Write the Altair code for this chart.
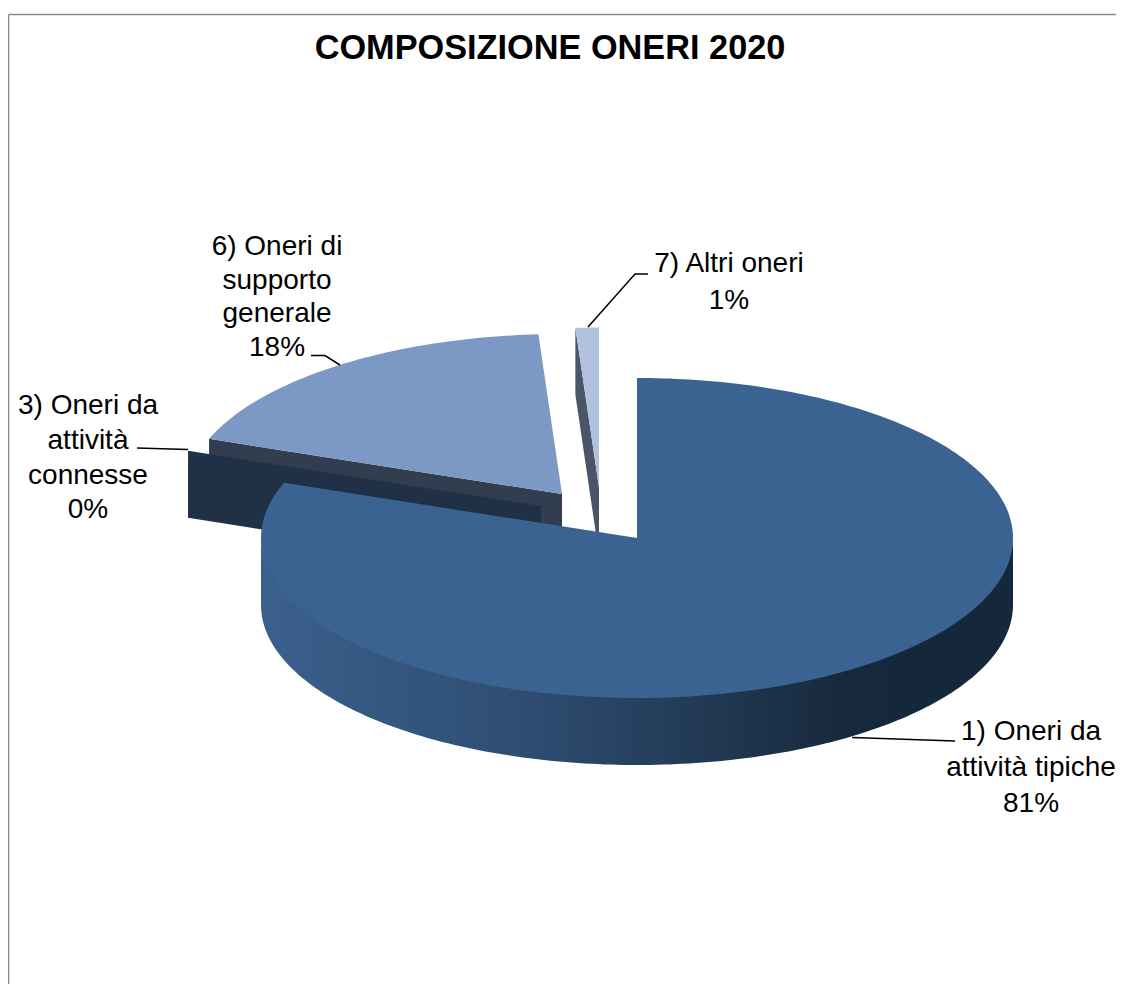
import math
import altair as alt
import pandas as pd

# ---- chart data
categories = ["1) Oneri da attività tipiche", "3) Oneri da attività connesse",
              "6) Oneri di supporto generale", "7) Altri oneri"]
shares = [80.6, 0.0, 18.4, 1.0]
title_text = "COMPOSIZIONE ONERI 2020"
label_lines = [["1) Oneri da", "attività tipiche"],
               ["3) Oneri da", "attività", "connesse"],
               ["6) Oneri di", "supporto", "generale"],
               ["7) Altri oneri"]]

# ---- layout and style (page pixels, the scales below map them 1:1)
M = 8
RIGHT, BOTTOM = 1116, 984
RX, RY, DEPTH = 376, 160, 67
apex = [(637, 538), (541, 506), (562, 494), (599, 487.5)]
top_col = ["#3B6391", "#1F3047", "#7C98C4", "#B2C1DD"]
side_col = ["#2A4767", "#1F3047", "#323D50", "#4A5567"]
label_x = [1031, 88, 277, 729]
label_y = [[732, 768, 804], [406, 441, 476, 510], [247, 281, 314, 348], [264, 301]]
leaders = [[(852, 737.5), (955, 741)],
           [(137, 448), (188, 449.5)],
           [(311, 355.5), (325, 355.5), (340, 365)],
           [(588, 327), (635, 274), (648, 274)]]
FONT = "Liberation Sans"

xs = alt.Scale(domain=[M, RIGHT], range=[0, RIGHT - M], nice=False, zero=False)
ys = alt.Scale(domain=[M, BOTTOM], range=[0, BOTTOM - M], nice=False, zero=False)
X = lambda f="x": alt.X(f"{f}:Q", scale=xs, axis=None)
Y = lambda f="y": alt.Y(f"{f}:Q", scale=ys, axis=None)


def rim(c, t):
    r = math.radians(t)
    return c[0] + RX * math.sin(r), c[1] - RY * math.cos(r)


def poly(points, fill):
    df = pd.DataFrame([{"x": p[0], "y": p[1], "o": i} for i, p in enumerate(points)])
    return alt.Chart(df).mark_line(fill=fill, strokeWidth=0, interpolate="linear-closed").encode(
        x=X(), y=Y(), order="o:Q")


# slice angles, derived from the shares
bounds = [0]
for s in shares:
    bounds.append(bounds[-1] + s * 3.6)


def top(i):
    a, b = bounds[i], bounds[i + 1]
    n = max(2, int(b - a))
    return poly([apex[i]] + [rim(apex[i], a + (b - a) * k / n) for k in range(n + 1)], top_col[i])


def cut_face(i):
    c, t = apex[i], bounds[i]
    p = rim(c, t)
    return poly([p, c, (c[0], c[1] + DEPTH), (p[0], p[1] + DEPTH)], side_col[i])


rim_pts = [rim(apex[0], t) for t in range(90, 271)]
# the band's upper edge tucks under the top face so no seam shows
band = [(x, y - 2) for x, y in rim_pts] + [(x, y + DEPTH) for x, y in reversed(rim_pts)]
gradient = alt.LinearGradient(
    gradient="linear", x1=0, x2=1, y1=0, y2=0,
    stops=[alt.GradientStop(offset=0, color="#3A608C"),
           alt.GradientStop(offset=0.35, color="#2E4D72"),
           alt.GradientStop(offset=0.62, color="#203750"),
           alt.GradientStop(offset=0.78, color="#16283C"),
           alt.GradientStop(offset=1, color="#15273B")])

layers = [cut_face(2), top(2), cut_face(1), cut_face(3), top(3),
          poly(band, gradient), top(0)]

# frame
for pts in ([(8.5, 14.5), (RIGHT, 14.5)], [(8.5, 14.5), (8.5, BOTTOM)]):
    d = pd.DataFrame([{"x": p[0], "y": p[1], "o": i} for i, p in enumerate(pts)])
    layers.append(alt.Chart(d).mark_line(color="#8A8A8A", strokeWidth=1.6).encode(x=X(), y=Y(), order="o:Q"))

# leader lines
for pts in leaders:
    d = pd.DataFrame([{"x": p[0], "y": p[1], "o": i} for i, p in enumerate(pts)])
    layers.append(alt.Chart(d).mark_line(color="#000000", strokeWidth=1.5).encode(x=X(), y=Y(), order="o:Q"))

# labels
rows = []
for i in range(4):
    lines = label_lines[i] + [f"{round(shares[i])}%"]
    for line, y in zip(lines, label_y[i]):
        rows.append({"x": label_x[i], "y": y, "t": line})
layers.append(alt.Chart(pd.DataFrame(rows)).mark_text(
    font=FONT, fontSize=28, color="#000000", align="center", baseline="middle"
).encode(x=X(), y=Y(), text="t:N"))

layers.append(alt.Chart(pd.DataFrame([{"x": 550, "y": 49, "t": title_text}])).mark_text(
    font=FONT, fontSize=34.3, fontWeight="bold", color="#000000", align="center", baseline="middle"
).encode(x=X(), y=Y(), text="t:N"))

chart = alt.layer(*layers).properties(
    width=RIGHT - M, height=BOTTOM - M, padding=0, background="#FFFFFF",
    autosize=alt.AutoSizeParams(type="none")
).configure_view(stroke=None)

chart.save("out.html", embed_options={"renderer": "svg", "actions": False})
